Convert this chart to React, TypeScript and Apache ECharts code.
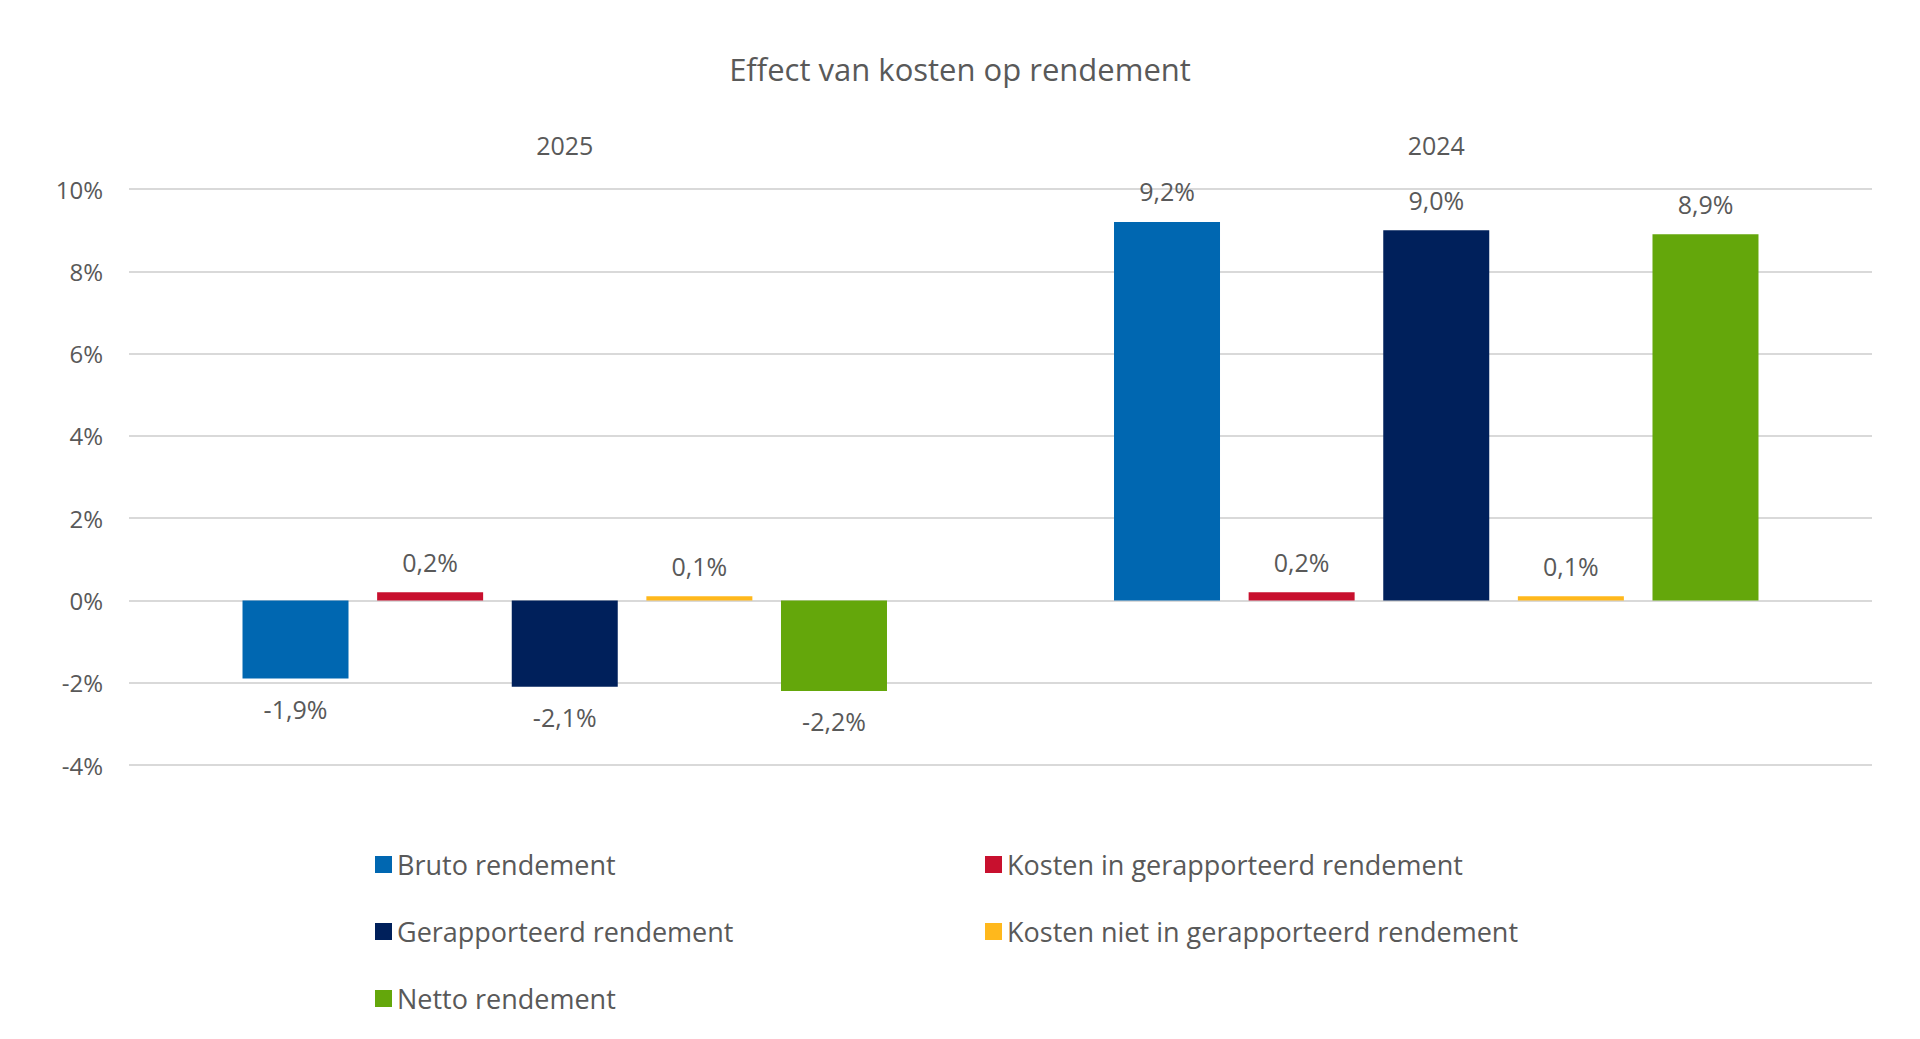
import React, { useEffect, useRef } from "react";
import * as echarts from "echarts";

const categories = ["2025", "2024"];
const seriesNames = [
  "Bruto rendement",
  "Kosten in gerapporteerd rendement",
  "Gerapporteerd rendement",
  "Kosten niet in gerapporteerd rendement",
  "Netto rendement",
];
const bruto = [-1.9, 9.2];
const kostenIn = [0.2, 0.2];
const gerapporteerd = [-2.1, 9.0];
const kostenNiet = [0.1, 0.1];
const netto = [-2.2, 8.9];
const colors = ["#0067B1", "#C8102E", "#00205B", "#FFB81C", "#64A70B"];

const FONT = "'Open Sans', 'Liberation Sans', sans-serif";
const TXT = "#595959";

export default function App() {
  const ref = useRef<HTMLDivElement>(null);
  useEffect(() => {
    const chart = echarts.init(ref.current!, null, { renderer: "svg" });
    const values = [bruto, kostenIn, gerapporteerd, kostenNiet, netto];
    chart.setOption({
      animation: false,
      textStyle: { fontFamily: FONT },
      title: {
        text: "Effect van kosten op rendement",
        left: "center",
        top: 40,
        textStyle: { fontFamily: FONT, fontSize: 31, fontWeight: "normal", color: TXT },
      },
      grid: { left: 121, right: 40, top: 181, bottom: 266 },
      xAxis: {
        type: "category",
        data: categories,
        position: "top",
        axisLine: { show: false },
        axisTick: { show: false },
        axisLabel: { color: TXT, fontSize: 25, margin: 32, fontFamily: FONT },
      },
      yAxis: {
        type: "value",
        min: -4,
        max: 10,
        interval: 2,
        axisLabel: { formatter: "{value}%", color: TXT, fontSize: 24, margin: 26, fontFamily: FONT },
        splitLine: { lineStyle: { color: "#d9d9d9", width: 2 } },
      },
      legend: [
        {
          orient: "vertical",
          left: 362,
          top: 838,
          itemGap: 40,
          itemWidth: 17,
          itemHeight: 17,
          icon: "rect",
          data: [seriesNames[0], seriesNames[2], seriesNames[4]],
          textStyle: { color: TXT, fontSize: 27, fontFamily: FONT },
        },
        {
          orient: "vertical",
          left: 972,
          top: 838,
          itemGap: 40,
          itemWidth: 17,
          itemHeight: 17,
          icon: "rect",
          data: [seriesNames[1], seriesNames[3]],
          textStyle: { color: TXT, fontSize: 27, fontFamily: FONT },
        },
      ],
      series: seriesNames.map((name, i) => ({
        name,
        type: "bar",
        data: values[i],
        barWidth: 106,
        barGap: "27%",
        itemStyle: { color: colors[i] },
        label: {
          show: true,
          position: "outside",
          distance: 18,
          color: TXT,
          fontSize: 25,
          fontFamily: FONT,
          formatter: (p: any) => p.value.toFixed(1).replace(".", ",") + "%",
        },
      })),
    });
    return () => chart.dispose();
  }, []);
  return <div ref={ref} style={{ width: 1904, height: 1023 }} />;
}
